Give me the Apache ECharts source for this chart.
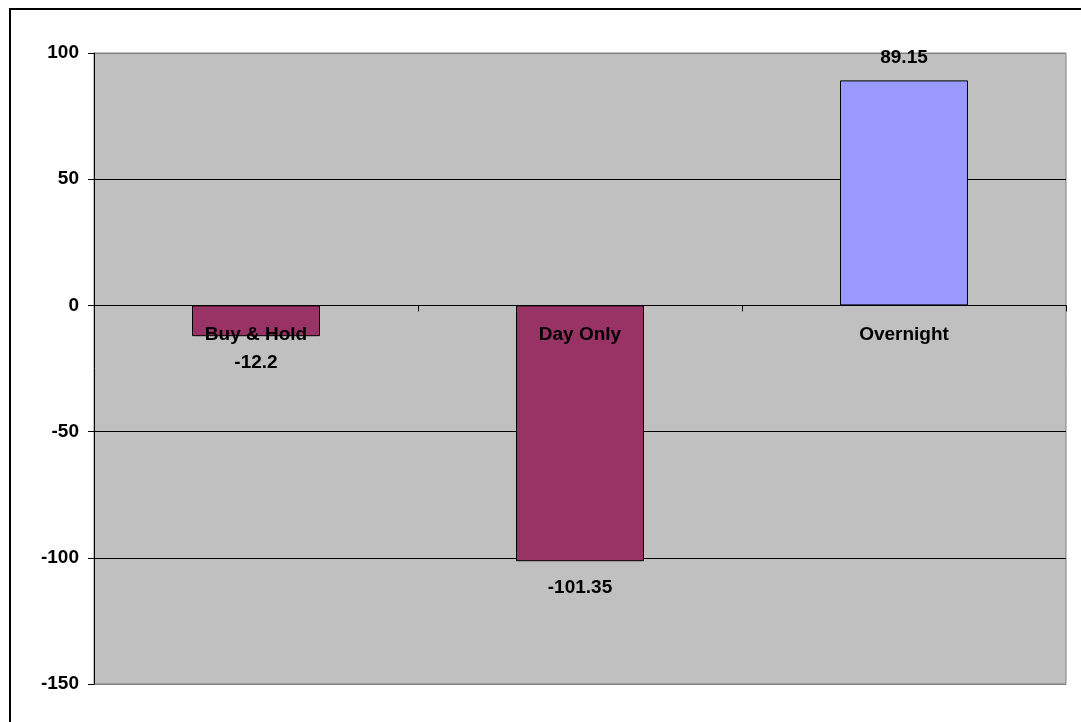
<!DOCTYPE html>
<html>
<head>
<meta charset="utf-8">
<script src="https://cdn.jsdelivr.net/npm/echarts@6/dist/echarts.min.js"></script>
<style>
  html, body { margin: 0; padding: 0; background: #ffffff; }
  #chart { width: 1081px; height: 722px; }
</style>
</head>
<body>
<div id="chart"></div>
<script>
// Strategy returns (points)
const categories = ['Buy & Hold', 'Day Only', 'Overnight'];
const values = [-12.2, -101.35, 89.15];
const barColors = ['#993366', '#993366', '#9999FF'];
const yTicks = { min: -150, max: 100, interval: 50 };

const FONT = '"Liberation Sans", Arial, sans-serif';
const textStyle = { color: '#000', fontFamily: FONT, fontWeight: 'bold', fontSize: 19 };

const chart = echarts.init(document.getElementById('chart'), null, { renderer: 'canvas' });

chart.setOption({
  backgroundColor: '#ffffff',
  animation: false,
  graphic: [{
    type: 'rect',
    shape: { x: 10, y: 9, width: 1200, height: 1000 },
    style: { fill: 'none', stroke: '#000', lineWidth: 2 },
    silent: true
  }],
  grid: {
    left: 94, right: 15, top: 53, bottom: 38,
    show: true,
    backgroundColor: '#C0C0C0',
    borderColor: '#808080',
    borderWidth: 1
  },
  xAxis: {
    type: 'category',
    data: categories,
    z: 5,
    axisLine: { onZero: true, lineStyle: { color: '#000', width: 1 } },
    axisTick: { show: true, alignWithLabel: false, length: 6, lineStyle: { color: '#000' } },
    axisLabel: { show: false },
    splitLine: { show: false }
  },
  yAxis: {
    type: 'value',
    min: yTicks.min, max: yTicks.max, interval: yTicks.interval,
    axisLine: { show: true, lineStyle: { color: '#000', width: 1 } },
    axisTick: { show: true, length: 6, lineStyle: { color: '#000' } },
    axisLabel: Object.assign({ margin: 15 }, textStyle),
    splitLine: {
      show: true,
      lineStyle: { color: ['#808080', '#000', '#000', '#000', '#000', '#808080'], width: 1 }
    }
  },
  series: [{
    type: 'bar',
    barWidth: '39.5%',
    data: values.map((v, i) => ({
      value: v,
      itemStyle: { color: barColors[i] },
      label: { distance: v < 0 ? 17 : 13 }
    })),
    itemStyle: { borderColor: '#000', borderWidth: 1 },
    label: Object.assign({ show: true, position: 'outside', distance: 15 }, textStyle)
  }, {
    // category names sit just under the zero line, over the bars
    type: 'scatter',
    z: 10,
    silent: true,
    symbolSize: 0,
    itemStyle: { opacity: 1 },
    data: categories.map(() => 0),
    label: Object.assign({
      show: true,
      position: 'bottom',
      distance: 20,
      formatter: (p) => categories[p.dataIndex]
    }, textStyle)
  }]
});
</script>
</body>
</html>
